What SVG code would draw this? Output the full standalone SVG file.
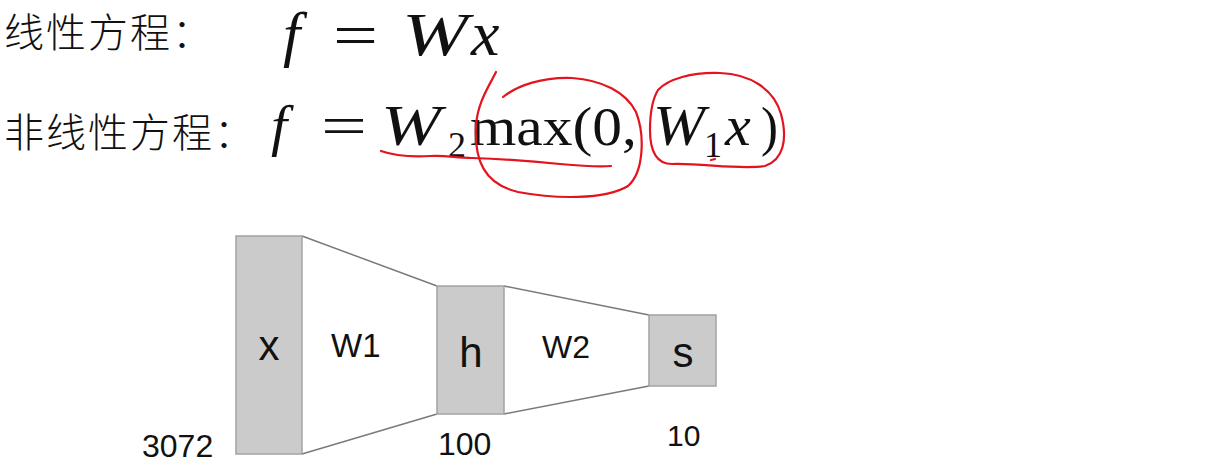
<svg xmlns="http://www.w3.org/2000/svg" width="1225" height="468" viewBox="0 0 1225 468">
  <style>
    .cjk { font-family: "Noto Sans CJK SC", sans-serif; font-size: 40px; letter-spacing: 2px; fill: #111; font-weight: 300; }
    .mi { font-family: "Liberation Serif", "DejaVu Serif", serif; font-style: italic; fill: #111; }
    .mr { font-family: "Liberation Serif", "DejaVu Serif", serif; fill: #111; }
    .ink { fill: none; stroke: #e3141e; stroke-width: 2.2; stroke-linecap: round; stroke-linejoin: round; }
    .box { fill: #cbcbcb; stroke: #a3a3a3; stroke-width: 1.5; }
    .edge { fill: none; stroke: #7a7a7a; stroke-width: 1.5; }
    .lbl { font-family: "Liberation Sans", Arial, sans-serif; fill: #111; }
  </style>

  <rect x="0" y="0" width="1225" height="468" fill="#ffffff"/>

  <!-- Equations -->
  <g id="eq-linear">
    <text class="cjk" x="4" y="47">线性方程：</text>
    <text class="mi" x="283" y="55" font-size="62">f</text>
    <text class="mr" x="333" y="55" font-size="60" textLength="45" lengthAdjust="spacingAndGlyphs">=</text>
    <text class="mi" x="402" y="55" font-size="62" textLength="66" lengthAdjust="spacingAndGlyphs">W</text>
    <text class="mi" x="471" y="55" font-size="64">x</text>
  </g>

  <g id="eq-nonlinear">
    <text class="cjk" x="4" y="147">非线性方程：</text>
    <text class="mi" x="271" y="145" font-size="58">f</text>
    <text class="mr" x="321" y="145" font-size="56" textLength="46" lengthAdjust="spacingAndGlyphs">=</text>
    <text class="mi" x="381" y="145" font-size="58" textLength="60" lengthAdjust="spacingAndGlyphs">W</text>
    <text class="mr" x="448" y="157" font-size="36">2</text>
    <text class="mr" x="470" y="145" font-size="54" textLength="167" lengthAdjust="spacingAndGlyphs">max(0,</text>
    <text class="mi" x="653" y="145" font-size="58" textLength="52" lengthAdjust="spacingAndGlyphs">W</text>
    <text class="mr" x="704" y="157" font-size="36">1</text>
    <text class="mi" x="725" y="145" font-size="58">x</text>
    <text class="mr" x="761" y="145" font-size="54" textLength="17" lengthAdjust="spacingAndGlyphs">)</text>
  </g>

  <!-- Red hand annotations -->
  <g id="annotations">
    <path class="ink" d="M496,72 C488,88 478,102 476,125 C474,160 484,184 518,192 C555,199 605,200 628,186 C644,172 645,135 636,112 C626,92 602,80 572,78 C543,77 518,85 503,97"/>
    <path class="ink" d="M381,151 C395,156 412,157 430,156 C446,155 456,158 472,158 C502,159 532,161 560,164 C582,166 600,167 611,166"/>
    <path class="ink" d="M658,90 C668,79 692,72 720,73 C750,74 774,89 781,114 C788,140 783,160 765,166 C740,170 702,163 672,164 C656,164 650,150 650,130 C650,114 652,100 658,90"/>
    <path class="ink" d="M711,160 L715,159"/>
  </g>

  <!-- Connectors -->
  <g id="connectors">
    <line class="edge" x1="302" y1="236" x2="437" y2="286"/>
    <line class="edge" x1="302" y1="454" x2="437" y2="414"/>
    <line class="edge" x1="504" y1="286" x2="649" y2="315"/>
    <line class="edge" x1="504" y1="414" x2="649" y2="386"/>
    <text class="lbl" x="331" y="357" font-size="33">W1</text>
    <text class="lbl" x="542" y="358" font-size="32">W2</text>
  </g>

  <!-- Nodes -->
  <g id="node-x">
    <rect class="box" x="236" y="236" width="66" height="218"/>
    <text class="lbl" x="269" y="360" font-size="42" text-anchor="middle">x</text>
    <text class="lbl" x="142" y="457" font-size="32">3072</text>
  </g>
  <g id="node-h">
    <rect class="box" x="437" y="286" width="67" height="128"/>
    <text class="lbl" x="471" y="367" font-size="42" text-anchor="middle">h</text>
    <text class="lbl" x="438" y="455" font-size="32">100</text>
  </g>
  <g id="node-s">
    <rect class="box" x="649" y="315" width="67" height="71"/>
    <text class="lbl" x="683" y="367" font-size="42" text-anchor="middle">s</text>
    <text class="lbl" x="667" y="446" font-size="30">10</text>
  </g>
</svg>
